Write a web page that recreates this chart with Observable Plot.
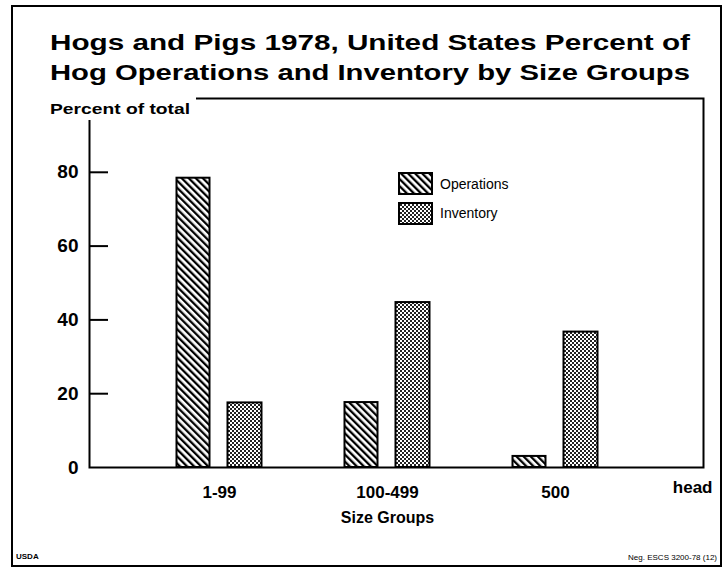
<!DOCTYPE html>
<html><head><meta charset="utf-8">
<script src="https://cdn.jsdelivr.net/npm/d3@7"></script>
<script src="https://cdn.jsdelivr.net/npm/@observablehq/plot@0.6"></script>
<style>
html,body{margin:0;padding:0;background:#fff;}
#wrap{position:relative;width:727px;height:572px;overflow:hidden;font-family:"Liberation Sans",Arial,Helvetica,sans-serif;color:#000;background:#fff;}
#border{position:absolute;left:11px;top:5px;width:707px;height:558px;border:2px solid #000;}
.tline{position:absolute;left:50px;font-weight:bold;font-size:22px;line-height:30px;white-space:nowrap;transform-origin:0 0;}
#chart{position:absolute;left:0;top:90px;}
#ylabBox{position:absolute;left:44px;top:95px;width:152px;height:25px;background:#fff;}
#ylab{position:absolute;left:50px;top:101px;font-weight:bold;font-size:14.5px;white-space:nowrap;transform-origin:0 0;}
.sw{position:absolute;left:398px;}
.lt{position:absolute;left:440px;font-size:14px;line-height:16px;white-space:nowrap;}
.cap{position:absolute;font-size:8px;font-weight:bold;white-space:nowrap;}
</style>
</head><body>
<div id="wrap">
  <div id="border"></div>
  <div class="tline" id="t1" style="top:28px">Hogs and Pigs 1978, United States Percent of</div>
  <div class="tline" id="t2" style="top:58px">Hog Operations and Inventory by Size Groups</div>
  <div id="chart"></div>
  <div id="ylabBox"></div>
  <div id="ylab">Percent of total</div>
  <div class="sw" style="top:172px"><svg width="35" height="23"><rect x="1" y="1" width="33" height="21" fill="url(#hatchOps)" stroke="#000" stroke-width="2"/></svg></div>
  <div class="lt" style="top:176px">Operations</div>
  <div class="sw" style="top:202px"><svg width="35" height="23"><rect x="1" y="1" width="33" height="21" fill="url(#dotsInv)" stroke="#000" stroke-width="2"/></svg></div>
  <div class="lt" style="top:205px">Inventory</div>
  <div class="cap" style="left:16px;top:552px">USDA</div>
  <div class="cap" style="right:10px;top:553px;font-weight:normal">Neg. ESCS 3200-78 (12)</div>
</div>
<script>
// ---- data ----
const groups = ["1-99", "100-499", "500"];
const operations = [78.4, 17.6, 3.0];
const inventory = [17.5, 44.7, 36.7];
const yTicks = [0, 20, 40, 60, 80];
const unitLabel = "head";
const xTitle = "Size Groups";

const ops = groups.map((g, i) => ({group: g, value: operations[i]}));
const inv = groups.map((g, i) => ({group: g, value: inventory[i]}));

const W = 727, H = 482, mL = 89, mR = 24, mT = 8, mB = 105;

const plot = Plot.plot({
  width: W, height: H,
  marginLeft: mL, marginRight: mR, marginTop: mT, marginBottom: mB,
  style: {fontFamily: "Liberation Sans, Arial, sans-serif", color: "#000", background: "transparent", overflow: "visible"},
  x: {domain: groups, paddingInner: 0, paddingOuter: 0.3166, align: 0.416, label: null},
  y: {domain: [0, 100], label: null},
  marks: [
    Plot.barY(ops, {x: "group", y: "value", fill: "url(#hatchOps)", stroke: "#000", strokeWidth: 2, insetLeft: 41.5, insetRight: 93.5}),
    Plot.barY(inv, {x: "group", y: "value", fill: "url(#dotsInv)", stroke: "#000", strokeWidth: 2, insetLeft: 92.5, insetRight: 41.5}),
    Plot.tickY(yTicks.filter(v => v > 0), {y: d => d, stroke: "#000", strokeWidth: 2, insetRight: W - mL - mR - 19}),
    Plot.axisY({ticks: yTicks, tickSize: 0, tickPadding: 11, fontSize: 19, fontWeight: "bold", label: null}),
    Plot.axisX({tickSize: 0, tickPadding: 18, fontSize: 17, fontWeight: "bold", label: null}),
    Plot.frame({stroke: "#000", strokeWidth: 2}),
    Plot.text([xTitle], {text: d => d, frameAnchor: "bottom", dx: -9, dy: 55, fontSize: 16, fontWeight: "bold"}),
    Plot.text([unitLabel], {text: d => d, frameAnchor: "bottom-right", textAnchor: "end", dx: 9, dy: 25, fontSize: 17, fontWeight: "bold"})
  ]
});

const ns = "http://www.w3.org/2000/svg";
const defs = document.createElementNS(ns, "defs");
defs.innerHTML = `
<pattern id="hatchOps" patternUnits="userSpaceOnUse" width="5" height="5" patternTransform="rotate(-45)">
  <rect width="5" height="5" fill="#fff"/><rect x="0" y="0" width="2.3" height="5" fill="#000"/>
</pattern>
<pattern id="dotsInv" patternUnits="userSpaceOnUse" width="4" height="4">
  <rect width="4" height="4" fill="#fff"/><rect x="0" y="0" width="2" height="2" fill="#222"/><rect x="2" y="2" width="2" height="2" fill="#222"/>
</pattern>`;
plot.insertBefore(defs, plot.firstChild);
document.getElementById("chart").appendChild(plot);

// fit title lines to the reference width (wide typeface)
for (const id of ["t1", "t2"]) {
  const el = document.getElementById(id);
  const w = el.getBoundingClientRect().width;
  el.style.transform = `scaleX(${640 / w})`;
}
const yl = document.getElementById("ylab");
yl.style.transform = `scaleX(${140 / yl.getBoundingClientRect().width})`;
</script>
</body></html>
